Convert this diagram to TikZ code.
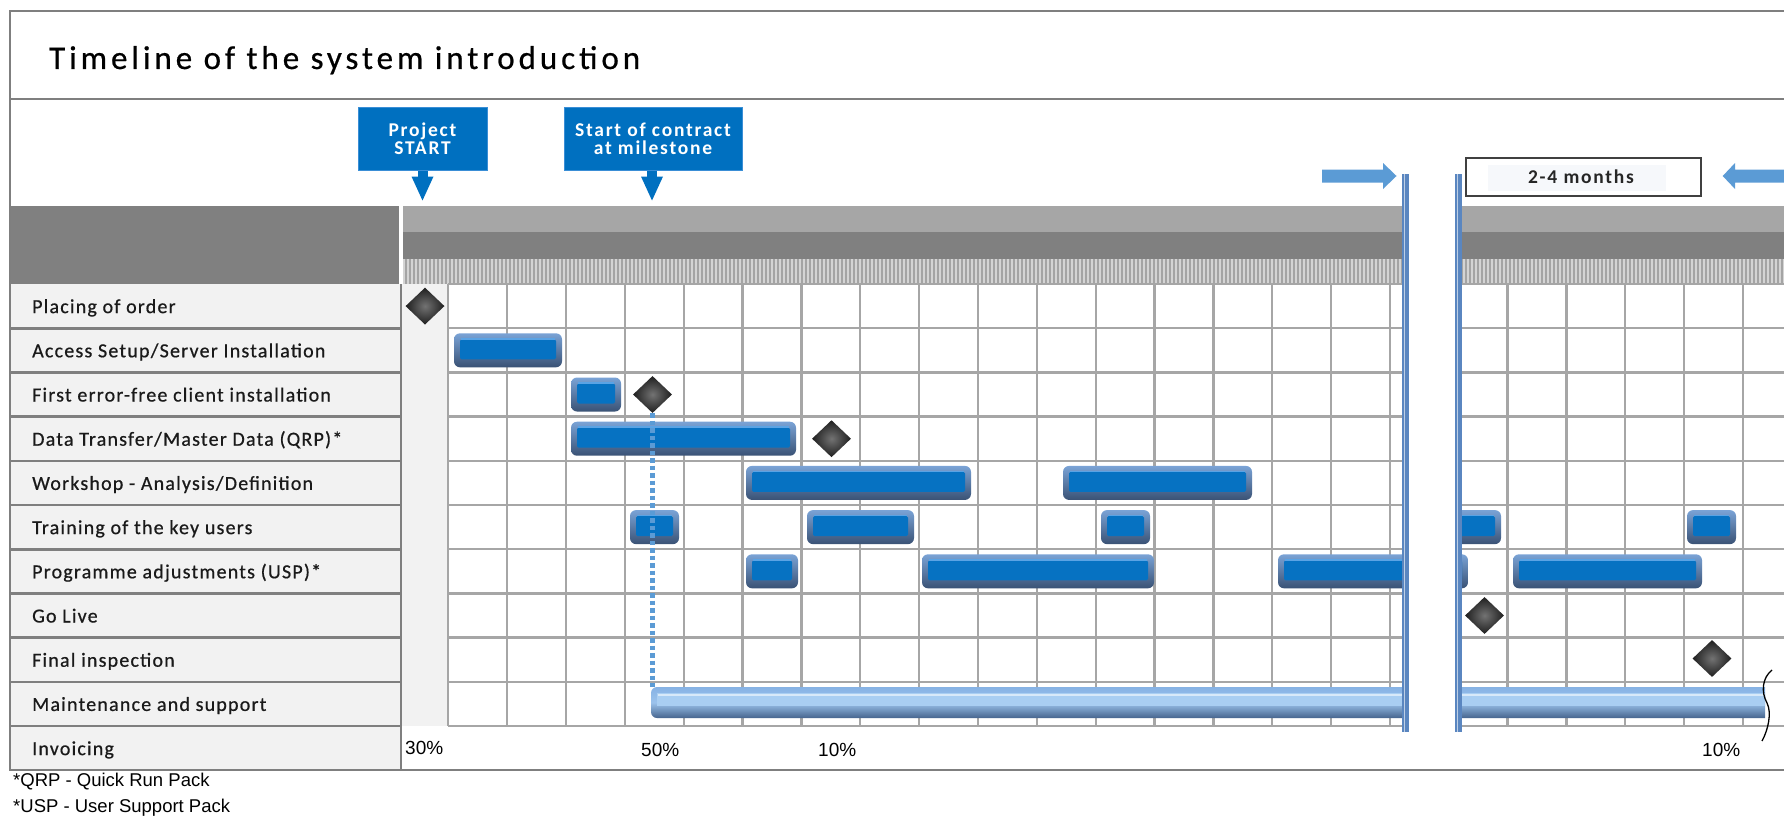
\documentclass[tikz,border=0pt]{standalone}
\usepackage{fontspec}
\setmainfont{Carlito}
\newfontfamily\titlefont[LetterSpace=12,FakeBold=0.6]{Carlito}
\newfontfamily\labfont[LetterSpace=6,FakeBold=0.6]{Carlito}
\newfontfamily\msfont[LetterSpace=9]{Carlito}
\newfontfamily\arialfont{Liberation Sans}
\usetikzlibrary{shapes.geometric}
\definecolor{framegray}{HTML}{7F7F7F}
\definecolor{gridgray}{HTML}{A6A6A6}
\definecolor{cellgray}{HTML}{F2F2F2}
\definecolor{hdrdark}{HTML}{808080}
\definecolor{hdrlight}{HTML}{A6A6A6}
\definecolor{tickbg}{HTML}{A4A4A4}
\definecolor{tickline}{HTML}{D4D4D4}
\definecolor{msblue}{HTML}{0070C0}
\definecolor{msedge}{HTML}{3A8ED6}
\definecolor{arrowblue}{HTML}{5B9BD5}
\definecolor{breakblue}{HTML}{5A86C0}
\definecolor{barbody}{HTML}{0672C2}
\definecolor{rimtop}{HTML}{7AA3D6}
\definecolor{rimbot}{HTML}{3A5275}
\definecolor{barhl}{HTML}{5AA3E4}
\definecolor{ltbody}{HTML}{A9CEF2}
\definecolor{ltrimtop}{HTML}{86B2E4}
\definecolor{ltrimbot}{HTML}{46658E}
\definecolor{ltmid}{HTML}{9CC3EC}
\definecolor{labtext}{HTML}{1A1A1A}
\definecolor{monthsbg}{HTML}{F6F8FB}
\newcommand\ganttbar[3]{%
  \shade[rounded corners=6pt, top color=rimtop, bottom color=rimbot] (#1,#3-17) rectangle (#2,#3+17);
  \fill[barbody, rounded corners=1.5pt] (#1+6,#3-11) rectangle (#2-6,#3+9);
  \draw[barhl, line width=1.6] (#1+7,#3-11.5) -- (#2-7,#3-11.5);
}
\begin{document}
\begin{tikzpicture}[x=1pt,y=-1pt,
  frameline/.style={framegray, line width=2.6},
  gridline/.style={gridgray, line width=2.3},
  labeltext/.style={anchor=base west, inner sep=0, text=labtext, font=\labfont\fontsize{20}{22}\selectfont},
  msbox/.style={fill=msblue, draw=msedge, line width=1, inner sep=0, text=white, align=center, font=\msfont\bfseries\fontsize{19.5}{18.3}\selectfont},
  msdiamond/.style={diamond, minimum width=39, minimum height=37, inner sep=0, shading=radial, inner color=black!55, outer color=black!88},
  pcttext/.style={anchor=west, inner sep=0, font=\arialfont\fontsize{19}{22}\selectfont},
  notetext/.style={anchor=west, inner sep=0, font=\arialfont\fontsize{18.5}{22}\selectfont},
  dotline/.style={arrowblue, line width=4.5, dash pattern=on 4.5pt off 3pt}
]
\useasboundingbox (0,0) rectangle (1784,816);
\clip (0,0) rectangle (1784,816);
\fill[white] (0,0) rectangle (1784,816);
% header band
\fill[hdrdark] (10,206) rectangle (399,284);
\fill[hdrlight] (403,206) rectangle (1784,232);
\fill[hdrdark] (403,232) rectangle (1784,258.5);
\fill[tickbg] (403,258.5) rectangle (1784,284);
\foreach \t in {404,408,...,1784} \draw[tickline, line width=1.2] (\t,259) -- (\t,284);
% cells
\fill[cellgray] (10,284) rectangle (401,770);
\fill[cellgray] (401,284) rectangle (448.3,726);
% grid
\foreach \k in {0,...,23} \draw[gridline] ({448.3+58.85*\k},284) -- ({448.3+58.85*\k},726);
\foreach \i in {0,...,10} \draw[gridline] (448.3,{284+44.2*\i}) -- (1784,{284+44.2*\i});
% label column lines
\foreach \i in {1,...,10} \draw[frameline] (10,{284+44.2*\i}) -- (401,{284+44.2*\i});
\draw[frameline] (401,284) -- (401,770);
% frame
\draw[frameline] (1784,11) -- (10,11) -- (10,770) -- (1784,770);
\draw[frameline] (10,99) -- (1784,99);
% title
\node[anchor=base west, inner sep=0, font=\titlefont\fontsize{33}{38}\selectfont] (title) at (49,69) {Timeline of the system introduction};
% labels (baseline = row centre + 7)
\node[labeltext] (l0) at (32,313.1) {Placing of order};
\node[labeltext] (l1) at (32,357.3) {Access Setup/Server Installation};
\node[labeltext] (l2) at (32,401.5) {First error-free client installation};
\node[labeltext] (l3) at (32,445.7) {Data Transfer/Master Data (QRP)*};
\node[labeltext] (l4) at (32,489.9) {Workshop - Analysis/Definition};
\node[labeltext] (l5) at (32,534.1) {Training of the key users};
\node[labeltext] (l6) at (32,578.3) {Programme adjustments (USP)*};
\node[labeltext] (l7) at (32,622.5) {Go Live};
\node[labeltext] (l8) at (32,666.7) {Final inspection};
\node[labeltext] (l9) at (32,710.9) {Maintenance and support};
\node[labeltext] (l10) at (32,755.1) {Invoicing};
% bars
\ganttbar{454}{562}{350.3}
\ganttbar{571}{621}{394.5}
\ganttbar{571}{796}{438.7}
\ganttbar{746}{971}{482.9}
\ganttbar{1063}{1252}{482.9}
\ganttbar{630}{679}{527.1}
\ganttbar{807}{914}{527.1}
\ganttbar{1101}{1150}{527.1}
\ganttbar{1430}{1501}{527.1}
\ganttbar{1687}{1736}{527.1}
\ganttbar{746}{798}{571.3}
\ganttbar{922}{1154}{571.3}
\ganttbar{1278}{1468}{571.3}
\ganttbar{1513}{1702}{571.3}
% maintenance bar
\begin{scope}
\clip (0,0) rectangle (1765,816);
\shade[rounded corners=6pt, top color=ltrimtop, bottom color=ltrimbot, middle color=ltmid] (651,687) rectangle (1790,718);
\fill[ltbody] (657,692.5) rectangle (1790,706);
\draw[white!55!ltbody, line width=2] (658,695) -- (1790,695);
\end{scope}
\draw[black, line width=1.3] (1772,670) .. controls (1762,678) and (1761,692) .. (1767,703) .. controls (1772,713) and (1768,730) .. (1762,741);
% diamonds
\node[msdiamond] (d0) at (425,306.1) {};
\node[msdiamond] (d2) at (652.5,394.5) {};
\node[msdiamond] (d3) at (831.5,438.7) {};
\node[msdiamond] (d7) at (1484.5,615.5) {};
\node[msdiamond] (d8) at (1712,658.5) {};
% dotted milestone line
\coordinate (mstart) at (652.5,687);
\draw[dotline] (d2.south) -- (mstart);
% break
\fill[white] (1408,165) rectangle (1456,734);
\fill[breakblue] (1402,174) rectangle (1409,732);
\draw[white!60!breakblue, line width=1] (1404,174) -- (1404,732);
\fill[breakblue] (1455,174) rectangle (1462,732);
\draw[white!60!breakblue, line width=1] (1457,174) -- (1457,732);
% arrows
\fill[arrowblue] (1322,169.5) -- (1383,169.5) -- (1383,163) -- (1396.5,176) -- (1383,189) -- (1383,182.5) -- (1322,182.5) -- cycle;
\fill[arrowblue] (1790,169.5) -- (1735,169.5) -- (1735,163) -- (1722.7,176) -- (1735,189) -- (1735,182.5) -- (1790,182.5) -- cycle;
% months box
\node[draw=black!75, line width=1.5, fill=white, minimum width=235, minimum height=38, inner sep=0] (months) at (1583.5,177) {};
\fill[monthsbg] (1488,165) rectangle (1666,191);
\node[inner sep=0, font=\msfont\bfseries\fontsize{19.5}{22}\selectfont, text=black!85] (monthstext) at (1581,177) {2-4 months};
% milestone callouts
\node[msbox, minimum width=129, minimum height=63] (ms1) at (422.5,138.5) {Project\\START};
\fill[msblue] ([xshift=-5pt]ms1.south) rectangle ([xshift=5pt,yshift=-6pt]ms1.south);
\fill[msblue] ([xshift=-11pt,yshift=-6pt]ms1.south) -- ([xshift=11pt,yshift=-6pt]ms1.south) -- ([yshift=-30pt]ms1.south) -- cycle;
\node[msbox, minimum width=178, minimum height=63] (ms2) at (653,138.5) {Start of contract\\at milestone};
\fill[msblue] ([xshift=-6pt]ms2.south) rectangle ([xshift=4pt,yshift=-6pt]ms2.south);
\fill[msblue] ([xshift=-12pt,yshift=-6pt]ms2.south) -- ([xshift=10pt,yshift=-6pt]ms2.south) -- ([xshift=-1pt,yshift=-30pt]ms2.south) -- cycle;
% invoicing
\node[pcttext] (p1) at (405,748) {30\%};
\node[pcttext] (p2) at (641,750) {50\%};
\node[pcttext] (p3) at (818,750) {10\%};
\node[pcttext] (p4) at (1702,750) {10\%};
% footnotes
\node[notetext] (n1) at (13,782) {*QRP - Quick Run Pack};
\node[notetext] (n2) at (13,808) {*USP - User Support Pack};
\end{tikzpicture}
\end{document}
